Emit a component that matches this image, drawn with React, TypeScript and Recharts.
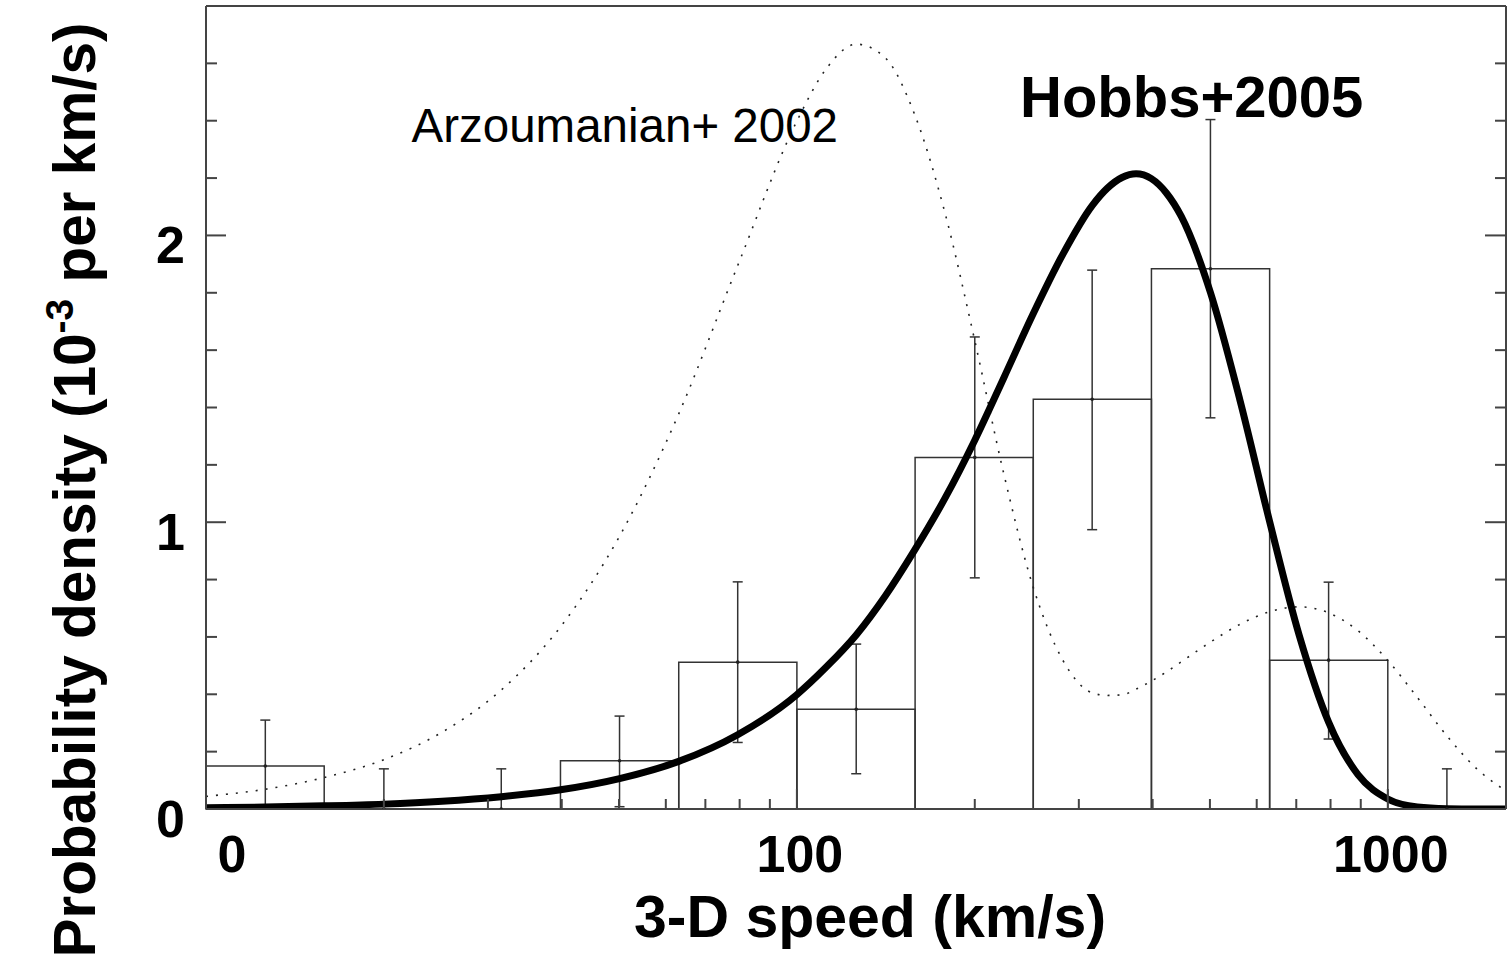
import React from 'react';
import { ComposedChart, Line, Scatter, ErrorBar, XAxis, YAxis, ReferenceArea } from 'recharts';

const speeds = [
	10, 12.6, 15.8, 20, 25.1, 31.6, 39.8, 50.1, 63.1, 79.4, 100, 112, 126, 141, 158, 178, 200, 224, 251, 282,
	316, 335, 355, 375, 398, 422, 447, 501, 562, 631, 708, 794, 891, 1000, 1122, 1259, 1413, 1585,
];
// Hobbs+2005 (thick solid)
const hobbs = [
	0.004, 0.007, 0.011, 0.017, 0.027, 0.043, 0.067, 0.106, 0.166, 0.259, 0.399, 0.494, 0.607, 0.742, 0.901, 1.083,
	1.286, 1.504, 1.726, 1.935, 2.104, 2.164, 2.202, 2.215, 2.198, 2.148, 2.067, 1.801, 1.426, 1.002, 0.606, 0.303,
	0.119, 0.035, 0.007, 0.001, 0, 0,
];
// Arzoumanian+ 2002 (dotted)
const arzoumanian = [
	0.044, 0.069, 0.109, 0.172, 0.268, 0.415, 0.635, 0.951, 1.378, 1.895, 2.399, 2.58, 2.667, 2.62, 2.425, 2.08,
	1.633, 1.168, 0.775, 0.518, 0.405, 0.396, 0.398, 0.418, 0.446, 0.478, 0.513, 0.582, 0.644, 0.688, 0.705, 0.684,
	0.621, 0.518, 0.389, 0.255, 0.141, 0.063,
];

// histogram
const binEdges = [10, 15.85, 25.1, 39.8, 63.1, 100, 158.5, 251.2, 398.1, 631, 1000, 1585];
const binHeights = [0.15, 0, 0, 0.168, 0.512, 0.348, 1.226, 1.429, 1.884, 0.519, 0];
const binCentres = [12.6, 20, 31.6, 50.1, 79.4, 126, 200, 316, 501, 794, 1259];
const errLow = [0.14, 0, 0, 0.16, 0.28, 0.225, 0.42, 0.455, 0.52, 0.275, 0];
const errHigh = [0.16, 0.14, 0.14, 0.156, 0.28, 0.227, 0.42, 0.45, 0.52, 0.272, 0.14];

// axes
const xTicks = [10, 20, 30, 40, 50, 60, 70, 80, 90, 100, 200, 300, 400, 500, 600, 700, 800, 900, 1000];
const xLabels: Record<number, string> = { 10: '0', 100: '100', 1000: '1000' };
const yTicks = [0, 0.2, 0.4, 0.6, 0.8, 1, 1.2, 1.4, 1.6, 1.8, 2, 2.2, 2.4, 2.6, 2.8];
const yLabels: Record<number, string> = { 0: '0', 1: '1', 2: '2' };

const curveData = speeds.map((v, i) => ({ v, hobbs: hobbs[i], arz: arzoumanian[i] }));
const pointData = binCentres.map((v, i) => ({ v, y: binHeights[i], err: [errLow[i], errHigh[i]] }));

const FONT = '"Liberation Sans", Arial, sans-serif';
const FRAME = '#444';

const isMajorY = (v: number) => Math.abs(v - Math.round(v)) < 1e-6;

const BottomTick = ({ x, y, payload }: any) => {
	const v = payload.value;
	const major = v in xLabels;
	return (
		<g>
			<line x1={x} y1={y} x2={x} y2={y - (major ? 20 : 10)} stroke={FRAME} strokeWidth={2} />
			{major && (
				<text
					x={x + (v === 10 ? 26 : 3)}
					y={y + 63}
					textAnchor="middle"
					fontFamily={FONT}
					fontWeight="bold"
					fontSize={52}
					fill="#000"
				>
					{xLabels[v]}
				</text>
			)}
		</g>
	);
};

const TopTick = ({ x, y, payload }: any) => {
	const major = payload.value in xLabels;
	return <line x1={x} y1={y} x2={x} y2={y + (major ? 20 : 10)} stroke={FRAME} strokeWidth={2} />;
};

const LeftTick = ({ x, y, payload }: any) => {
	const v = payload.value;
	const major = isMajorY(v);
	return (
		<g>
			<line x1={x} y1={y} x2={x + (major ? 20 : 11)} y2={y} stroke={FRAME} strokeWidth={2} />
			{major && (
				<text
					x={x - 21}
					y={y + 28}
					textAnchor="end"
					fontFamily={FONT}
					fontWeight="bold"
					fontSize={52}
					fill="#000"
				>
					{yLabels[Math.round(v)]}
				</text>
			)}
		</g>
	);
};

const RightTick = ({ x, y, payload }: any) => {
	const major = isMajorY(payload.value);
	return <line x1={x} y1={y} x2={x - (major ? 21 : 11)} y2={y} stroke={FRAME} strokeWidth={2} />;
};

const Dot = (props: any) => <circle cx={props.cx} cy={props.cy} r={1.8} fill="#222" />;

export default function App() {
	return (
		<div style={{ position: 'absolute', left: 0, top: 0, width: 1512, height: 960, background: '#fff' }}>
			<ComposedChart width={1512} height={960} margin={{ top: 5, right: 5, bottom: 150, left: 205 }}>
				<XAxis
					dataKey="v"
					type="number"
					scale="log"
					domain={[10, 1585]}
					allowDataOverflow
					ticks={xTicks}
					interval={0}
					height={1}
					tickSize={0}
					tickMargin={0}
					tick={<BottomTick />}
					axisLine={{ stroke: FRAME, strokeWidth: 2 }}
				/>
				<XAxis
					xAxisId="top"
					orientation="top"
					type="number"
					scale="log"
					domain={[10, 1585]}
					allowDataOverflow
					ticks={xTicks}
					interval={0}
					height={1}
					tickSize={0}
					tickMargin={0}
					tick={<TopTick />}
					axisLine={{ stroke: FRAME, strokeWidth: 2 }}
				/>
				<YAxis
					type="number"
					domain={[0, 2.8]}
					allowDataOverflow
					ticks={yTicks}
					interval={0}
					width={1}
					tickSize={0}
					tickMargin={0}
					tick={<LeftTick />}
					axisLine={{ stroke: FRAME, strokeWidth: 2 }}
				/>
				<YAxis
					yAxisId="right"
					orientation="right"
					type="number"
					domain={[0, 2.8]}
					allowDataOverflow
					ticks={yTicks}
					interval={0}
					width={1}
					tickSize={0}
					tickMargin={0}
					tick={<RightTick />}
					axisLine={{ stroke: FRAME, strokeWidth: 2 }}
				/>
				{binHeights.map((h, i) => (
					<ReferenceArea
						key={`bin-${i}`}
						x1={binEdges[i]}
						x2={binEdges[i + 1]}
						y1={0}
						y2={h}
						fill="none"
						stroke="#333"
						strokeWidth={1.5}
						fillOpacity={0}
						ifOverflow="visible"
					/>
				))}
				<Line
					data={curveData}
					dataKey="arz"
					type="monotone"
					stroke="#222"
					strokeWidth={1.6}
					strokeDasharray="2 8"
					dot={false}
					activeDot={false}
					isAnimationActive={false}
				/>
				<Scatter data={pointData} dataKey="y" shape={<Dot />} isAnimationActive={false}>
					<ErrorBar dataKey="err" direction="y" width={5} stroke="#333" strokeWidth={1.5} />
				</Scatter>
				<Line
					data={curveData}
					dataKey="hobbs"
					type="monotone"
					stroke="#000"
					strokeWidth={7}
					strokeLinecap="round"
					dot={false}
					activeDot={false}
					isAnimationActive={false}
				/>
			</ComposedChart>
			<svg
				width={1512}
				height={960}
				style={{ position: 'absolute', left: 0, top: 0, pointerEvents: 'none' }}
			>
				<text x={1020} y={117} fontFamily={FONT} fontWeight="bold" fontSize={58} fill="#000">
					Hobbs+2005
				</text>
				<text x={838} y={142} textAnchor="end" fontFamily={FONT} fontSize={47.5} fill="#000">
					Arzoumanian+ 2002
				</text>
				<text x={870} y={937} textAnchor="middle" fontFamily={FONT} fontWeight="bold" fontSize={59} fill="#000">
					3-D speed (km/s)
				</text>
				<text
					transform="translate(95 490) rotate(-90)"
					textAnchor="middle"
					fontFamily={FONT}
					fontWeight="bold"
					fontSize={58.5}
					fill="#000"
				>
					Probability density (10
					<tspan dy={-22} fontSize={39}>
						-3
					</tspan>
					<tspan dy={22}> per km/s)</tspan>
				</text>
			</svg>
		</div>
	);
}
